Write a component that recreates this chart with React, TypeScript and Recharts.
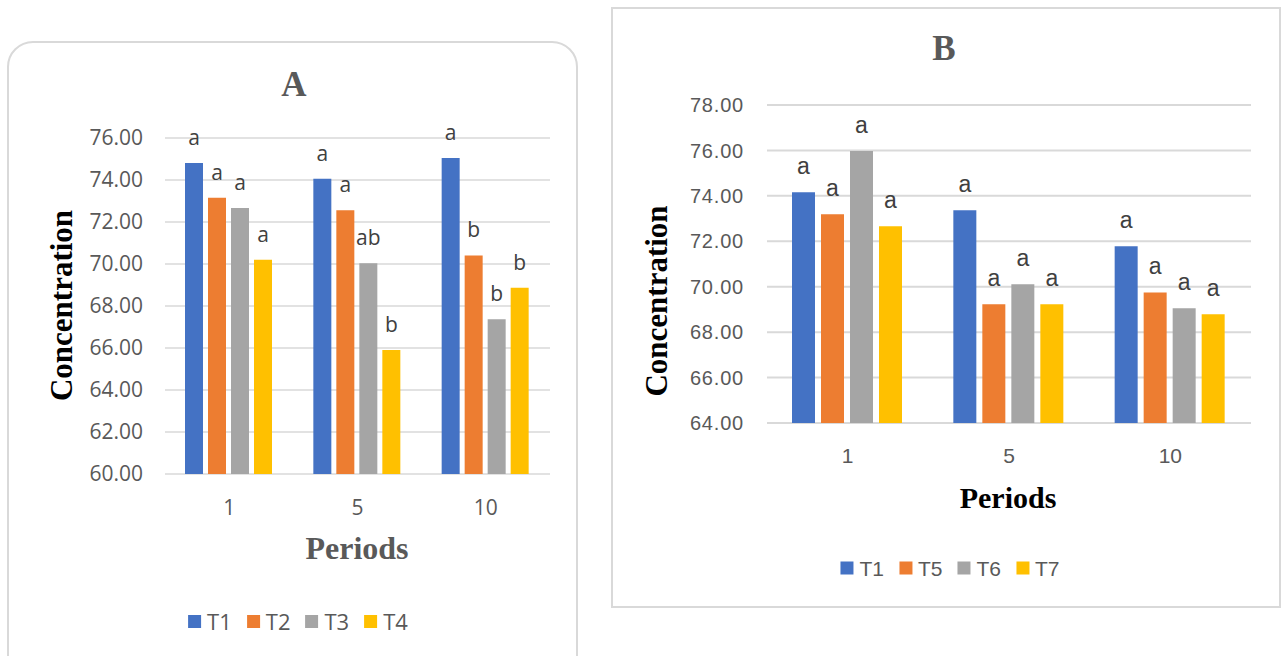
import React from 'react';
import { BarChart, Bar, XAxis, YAxis, CartesianGrid, LabelList } from 'recharts';

// ---------- data ----------
const periods = ['1', '5', '10'];

const seriesA = ['T1', 'T2', 'T3', 'T4'];
const valuesA_T1 = [74.81, 74.06, 75.05];
const valuesA_T2 = [73.16, 72.56, 70.41];
const valuesA_T3 = [72.67, 70.03, 67.37];
const valuesA_T4 = [70.2, 65.9, 68.87];
const lettersA_T1 = ['a', 'a', 'a'];
const lettersA_T2 = ['a', 'a', 'b'];
const lettersA_T3 = ['a', 'ab', 'b'];
const lettersA_T4 = ['a', 'b', 'b'];
const ticksA = [60, 62, 64, 66, 68, 70, 72, 74, 76];

const seriesB = ['T1', 'T5', 'T6', 'T7'];
const valuesB_T1 = [74.16, 73.37, 71.78];
const valuesB_T5 = [73.19, 69.23, 69.75];
const valuesB_T6 = [75.98, 70.11, 69.05];
const valuesB_T7 = [72.66, 69.23, 68.79];
const lettersB_T1 = ['a', 'a', 'a'];
const lettersB_T5 = ['a', 'a', 'a'];
const lettersB_T6 = ['a', 'a', 'a'];
const lettersB_T7 = ['a', 'a', 'a'];
const ticksB = [64, 66, 68, 70, 72, 74, 76, 78];

const colors = ['#4472C4', '#ED7D31', '#A5A5A5', '#FFC000'];

const buildRows = (names: string[], vals: number[][], letters: string[][]) =>
  periods.map((p, i) => {
    const row: Record<string, any> = { period: p };
    names.forEach((n, k) => {
      row[n] = vals[k][i];
      row[n + '_sig'] = letters[k][i];
    });
    return row;
  });

const dataA = buildRows(
  seriesA,
  [valuesA_T1, valuesA_T2, valuesA_T3, valuesA_T4],
  [lettersA_T1, lettersA_T2, lettersA_T3, lettersA_T4]
);
const dataB = buildRows(
  seriesB,
  [valuesB_T1, valuesB_T5, valuesB_T6, valuesB_T7],
  [lettersB_T1, lettersB_T5, lettersB_T6, lettersB_T7]
);

const SERIF = '"Liberation Serif", "Times New Roman", serif';
const FONT_A = '"Open Sans", sans-serif';
const FONT_B = '"Liberation Sans", Arial, sans-serif';

function LegendBox({ names, left, top, font, fontSize }: any) {
  return (
    <div
      style={{
        position: 'absolute',
        left,
        top,
        transform: 'translate(-50%, -50%)',
        display: 'flex',
        alignItems: 'center',
        gap: 15,
        fontFamily: font,
        fontSize,
        color: '#595959',
        whiteSpace: 'nowrap',
        lineHeight: 1,
      }}
    >
      {names.map((n: string, i: number) => (
        <div key={n} style={{ display: 'flex', alignItems: 'center' }}>
          <div style={{ width: 13, height: 13, background: colors[i] }} />
          <span style={{ marginLeft: 6 }}>{n}</span>
        </div>
      ))}
    </div>
  );
}

export default function App() {
  return (
    <div
      style={{
        position: 'absolute',
        left: 0,
        top: 0,
        width: 1285,
        height: 656,
        overflow: 'hidden',
        background: '#fff',
      }}
    >
      {/* panel borders */}
      <div
        style={{
          position: 'absolute',
          left: 7,
          top: 41,
          width: 571,
          height: 660,
          border: '2px solid #d9d9d9',
          borderRadius: 26,
          boxSizing: 'border-box',
        }}
      />
      <div
        style={{
          position: 'absolute',
          left: 611,
          top: 7,
          width: 670,
          height: 601,
          border: '2px solid #d9d9d9',
          boxSizing: 'border-box',
        }}
      />

      {/* chart A */}
      <div style={{ position: 'absolute', left: 0, top: 0 }}>
        <BarChart
          width={600}
          height={656}
          data={dataA}
          margin={{ top: 138, right: 50, bottom: 142, left: 20 }}
          barCategoryGap={20}
          barGap={5}
        >
          <CartesianGrid vertical={false} stroke="#d9d9d9" strokeWidth={1.5} />
          <XAxis
            dataKey="period"
            height={40}
            axisLine={false}
            tickLine={false}
            tickMargin={20}
            tick={{ fill: '#595959', fontSize: 21, fontFamily: FONT_A }}
          />
          <YAxis
            width={145}
            domain={[60, 76]}
            ticks={ticksA}
            interval={0}
            axisLine={false}
            tickLine={false}
            tickMargin={16}
            tickFormatter={(v: number) => v.toFixed(2)}
            tick={{ fill: '#595959', fontSize: 21, fontFamily: FONT_A }}
          />
          {seriesA.map((n, i) => (
            <Bar key={n} dataKey={n} fill={colors[i]} isAnimationActive={false}>
              <LabelList
                dataKey={n + '_sig'}
                position="top"
                offset={18}
                fill="#404040"
                fontSize={21}
                fontFamily={FONT_A}
              />
            </Bar>
          ))}
        </BarChart>
      </div>

      {/* chart B */}
      <div style={{ position: 'absolute', left: 600, top: 0 }}>
        <BarChart
          width={685}
          height={656}
          data={dataB}
          margin={{ top: 105, right: 34, bottom: 193, left: 20 }}
          barCategoryGap={25}
          barGap={6}
        >
          <CartesianGrid vertical={false} stroke="#d9d9d9" strokeWidth={2} />
          <XAxis
            dataKey="period"
            height={40}
            axisLine={false}
            tickLine={false}
            tickMargin={19}
            tick={{ fill: '#595959', fontSize: 21, fontFamily: FONT_B }}
          />
          <YAxis
            width={147}
            domain={[64, 78]}
            ticks={ticksB}
            interval={0}
            axisLine={false}
            tickLine={false}
            tickMargin={17}
            tickFormatter={(v: number) => v.toFixed(2)}
            tick={{ fill: '#595959', fontSize: 20, fontFamily: FONT_B, letterSpacing: 0.8 }}
          />
          {seriesB.map((n, i) => (
            <Bar key={n} dataKey={n} fill={colors[i]} isAnimationActive={false}>
              <LabelList
                dataKey={n + '_sig'}
                position="top"
                offset={18}
                fill="#404040"
                fontSize={23}
                fontFamily={FONT_B}
              />
            </Bar>
          ))}
        </BarChart>
      </div>

      {/* text overlay */}
      <svg
        width={1285}
        height={656}
        style={{ position: 'absolute', left: 0, top: 0, pointerEvents: 'none' }}
      >
        <text x={294} y={96} textAnchor="middle" fontFamily={SERIF} fontWeight="bold" fontSize={35} fill="#595959">
          A
        </text>
        <text x={944} y={60} textAnchor="middle" fontFamily={SERIF} fontWeight="bold" fontSize={35} fill="#595959">
          B
        </text>
        <text x={357} y={559} textAnchor="middle" fontFamily={SERIF} fontWeight="bold" fontSize={32} fill="#595959">
          Periods
        </text>
        <text x={1008} y={508} textAnchor="middle" fontFamily={SERIF} fontWeight="bold" fontSize={30} fill="#000">
          Periods
        </text>
        <text
          x={61.5}
          y={315.5}
          transform="rotate(-90 61.5 305.5)"
          textAnchor="middle"
          fontFamily={SERIF}
          fontWeight="bold"
          fontSize={31}
          fill="#000"
        >
          Concentration
        </text>
        <text
          x={657}
          y={311}
          transform="rotate(-90 657 301)"
          textAnchor="middle"
          fontFamily={SERIF}
          fontWeight="bold"
          fontSize={31}
          fill="#000"
        >
          Concentration
        </text>
      </svg>

      <LegendBox names={seriesA} left={298} top={621} font={FONT_A} fontSize={22} />
      <LegendBox names={seriesB} left={950} top={568} font={FONT_B} fontSize={21} />
    </div>
  );
}
